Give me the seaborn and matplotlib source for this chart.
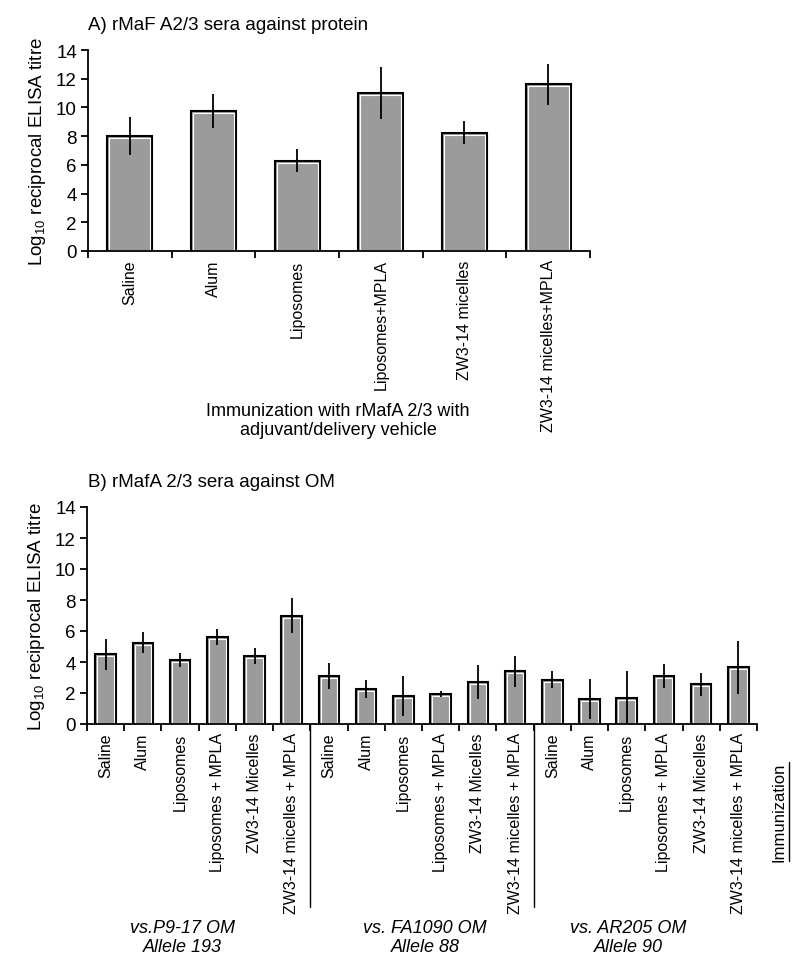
import numpy as np
import pandas as pd
import matplotlib
matplotlib.use("Agg")
import matplotlib.pyplot as plt
from matplotlib.patches import Rectangle
from matplotlib.lines import Line2D
import seaborn as sns

# Panel A: rMafA 2/3 sera against protein
cats_a = ["Saline", "Alum", "Liposomes", "Liposomes+MPLA",
          "ZW3-14 micelles", "ZW3-14 micelles+MPLA"]
mean_a = [8.0, 9.75, 6.3, 11.0, 8.25, 11.6]
err_a = [1.3, 1.2, 0.77, 1.8, 0.8, 1.45]

# Panel B: rMafA 2/3 sera against OM (three strains)
cats_b = ["Saline", "Alum", "Liposomes", "Liposomes + MPLA",
          "ZW3-14 Micelles", "ZW3-14 micelles + MPLA"]
strains = ["vs.P9-17 OM\nAllele 193", "vs. FA1090 OM\nAllele 88", "vs. AR205 OM\nAllele 90"]
mean_b = [4.5, 5.25, 4.15, 5.6, 4.4, 7.0,
          3.1, 2.25, 1.8, 1.95, 2.7, 3.4,
          2.85, 1.6, 1.7, 3.1, 2.55, 3.65]
err_b = [1.0, 0.7, 0.45, 0.5, 0.5, 1.1,
         0.85, 0.6, 1.3, 0.2, 1.1, 1.0,
         0.55, 1.3, 1.7, 0.75, 0.75, 1.7]

BAR = "#9b9b9b"

sns.set_theme(style="ticks")
plt.rcParams["font.family"] = ["Liberation Sans", "DejaVu Sans"]
plt.rcParams["mathtext.default"] = "regular"
plt.rcParams["text.color"] = "black"
plt.rcParams["axes.labelcolor"] = "black"
plt.rcParams["xtick.color"] = "black"
plt.rcParams["ytick.color"] = "black"
plt.rcParams["axes.edgecolor"] = "black"
plt.rcParams["axes.linewidth"] = 1.3
plt.rcParams["xtick.major.width"] = 1.3
plt.rcParams["ytick.major.width"] = 1.3
plt.rcParams["xtick.minor.width"] = 1.3

fig = plt.figure(figsize=(8, 9.79), dpi=100)
W, H = 800, 979


def axes_px(left, right, top, bottom):
    return fig.add_axes([left / W, 1 - bottom / H, (right - left) / W, (bottom - top) / H])


def inner_white(ax):
    # Excel-style thin white line just inside each bar outline
    bb = ax.get_window_extent()
    x0, x1 = ax.get_xlim()
    y0, y1 = ax.get_ylim()
    dx = 2.0 * (x1 - x0) / bb.width
    dy = 2.0 * (y1 - y0) / bb.height
    for p in list(ax.patches):
        x, w, h = p.get_x(), p.get_width(), p.get_height()
        ax.add_patch(Rectangle((x + dx, dy * 0.6), w - 2 * dx, h - 1.6 * dy,
                               fill=False, edgecolor="white", lw=0.8, zorder=2.5))


def style_axis(ax, n):
    ax.set_ylim(0, 14)
    ax.set_xlim(-0.5, n - 0.5)
    ax.set_yticks(range(0, 15, 2))
    ax.tick_params(axis="y", labelsize=13.5, length=5, direction="out", pad=3)
    ax.set_xticks(np.arange(-0.5, n, 1.0), minor=True)
    ax.tick_params(axis="x", which="major", length=0, pad=6, labelsize=11.5)
    ax.tick_params(axis="x", which="minor", length=5, direction="out")
    sns.despine(ax=ax)
    ax.set_xlabel("")
    ax.set_ylabel(r"Log$_{10}$ reciprocal ELISA titre", fontsize=13.5, labelpad=6)


# ---- Panel A ----
ax_a = axes_px(88, 590, 51, 252)
df_a = pd.DataFrame({"cat": cats_a, "val": mean_a})
sns.barplot(data=df_a, x="cat", y="val", order=cats_a, color=BAR, width=0.54,
            edgecolor="black", linewidth=1.5, errorbar=None, saturation=1, ax=ax_a)
ax_a.errorbar(np.arange(len(cats_a)), mean_a, yerr=err_a, fmt="none",
              ecolor="black", elinewidth=1.3, capsize=0, zorder=3)
style_axis(ax_a, len(cats_a))
ax_a.set_xticks(range(len(cats_a)))
ax_a.set_xticklabels(cats_a, rotation=90)
inner_white(ax_a)
fig.text(88 / W, 1 - 25 / H, "A) rMaF A2/3 sera against protein", fontsize=13.5,
         ha="left", va="center")
fig.text(338 / W, 1 - 421 / H, "Immunization with rMafA 2/3 with\nadjuvant/delivery vehicle",
         fontsize=13, ha="center", va="center", linespacing=1.2)

# ---- Panel B ----
ax_b = axes_px(87, 757, 508, 725)
ids = [f"{s}|{c}" for s in strains for c in cats_b]
df_b = pd.DataFrame({"id": ids, "val": mean_b})
sns.barplot(data=df_b, x="id", y="val", order=ids, color=BAR, width=0.55,
            edgecolor="black", linewidth=1.5, errorbar=None, saturation=1, ax=ax_b)
ax_b.errorbar(np.arange(len(ids)), mean_b, yerr=err_b, fmt="none",
              ecolor="black", elinewidth=1.3, capsize=0, zorder=3)
style_axis(ax_b, len(ids))
ax_b.set_xticks(range(len(ids)))
ax_b.set_xticklabels([c for s in strains for c in cats_b], rotation=90)
inner_white(ax_b)

# group separators below the axis
sep_bottom = -(908 - 725) / (725 - 508)
for k in range(1, len(strains)):
    ax_b.axvline(k * len(cats_b) - 0.5, ymin=sep_bottom, ymax=0, color="black",
                 lw=1.0, clip_on=False)

# group labels
for xc, s in zip([182, 425, 628], strains):
    fig.text(xc / W, 1 - 938 / H, s, fontsize=13, style="italic",
             ha="center", va="center", linespacing=1.15)

fig.text(88 / W, 1 - 483 / H, "B) rMafA 2/3 sera against OM", fontsize=13.5,
         ha="left", va="center")

# underlined rotated "Immunization"
imm = fig.text(779 / W, 1 - 763 / H, "Immunization", fontsize=12, rotation=90,
               ha="center", va="top")
fig.canvas.draw()
bb = imm.get_window_extent()
fig.add_artist(Line2D([(bb.x1 + 2) / W] * 2, [bb.y0 / H, bb.y1 / H],
                      transform=fig.transFigure, color="black", lw=1.0))

fig.savefig("out.png", dpi=100)
